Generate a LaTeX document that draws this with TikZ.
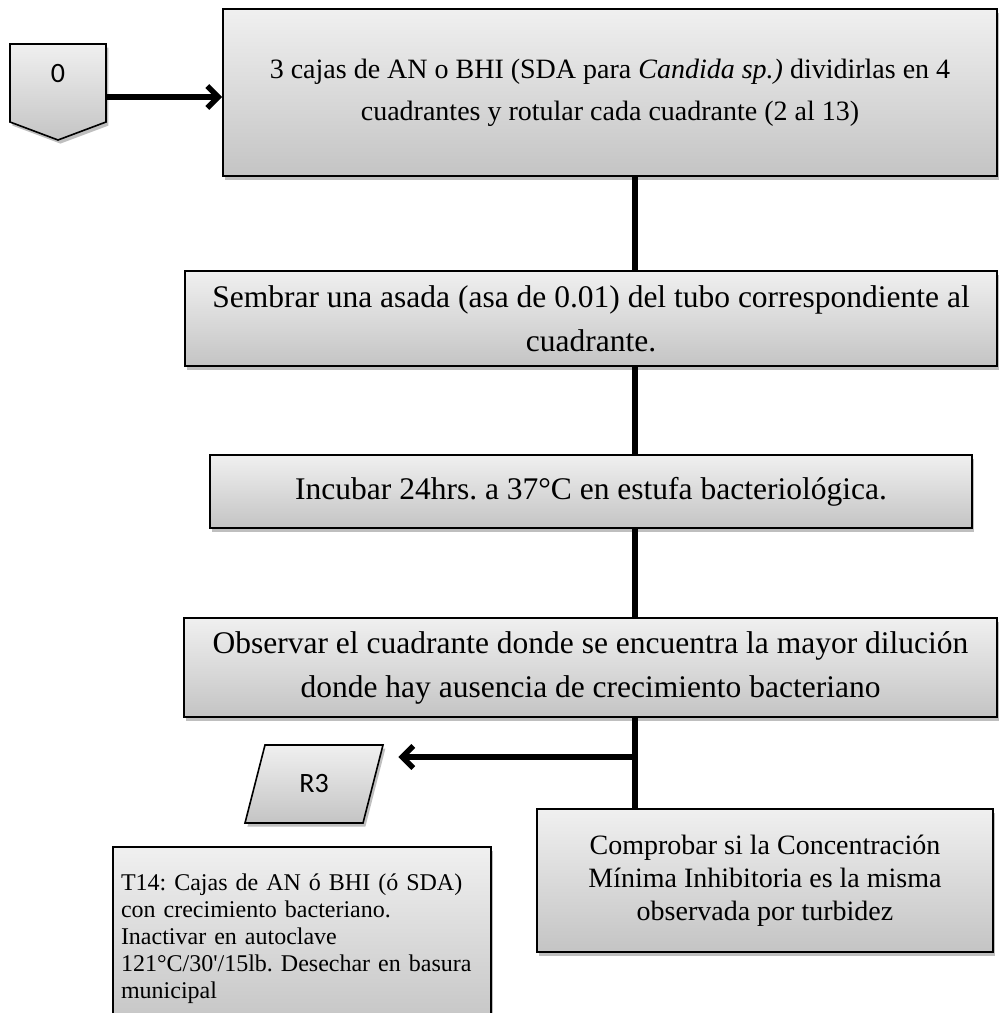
\documentclass[tikz,border=0pt]{standalone}
\usepackage{fontspec}
\setmainfont{Liberation Serif}
\newfontfamily\plainserif{Liberation Serif}[Ligatures=Common]
\newfontfamily\calfont{Carlito}
\usetikzlibrary{shadows,arrows.meta,calc}
\definecolor{boxtop}{RGB}{240,240,240}
\definecolor{boxbot}{RGB}{196,196,196}
\frenchspacing
\tikzset{
  shad/.style={drop shadow={shadow xshift=1.2pt,shadow yshift=-1.8pt,opacity=0.25,fill=black}},
  box/.style={draw=black, line width=0.8pt, top color=boxtop, bottom color=boxbot, shad, inner sep=0pt, align=center},
  bigtxt/.style={font=\fontsize{15.75pt}{22pt}\selectfont},
  midtxt/.style={font=\fontsize{14pt}{21pt}\selectfont},
  conn/.style={line width=2.75pt, draw=black},
  arr/.style={conn, -{Straight Barb[length=5.5pt,width=11pt]}},
}
\begin{document}
\begin{tikzpicture}[x=0.5pt,y=-0.5pt]
\useasboundingbox (0,0) rectangle (1000,1013);
\clip (0,0) rectangle (1000,1013);

% off-page connector 0
\path[draw=black, line width=0.8pt, top color=boxtop, bottom color=boxbot, shad]
  (10,44) -- (106,44) -- (106,122) -- (58,140) -- (10,122) -- cycle;
\node[inner sep=0pt, minimum width=48pt, minimum height=30pt, font=\calfont\fontsize{14pt}{16pt}\selectfont] (p0) at (58,74) {0};

% process boxes
\node[box, midtxt, minimum width=387pt, minimum height=83.5pt] (b1) at (610,92.5)
  {3 cajas de AN o BHI (SDA para \textit{Candida sp.)} dividirlas en 4\\cuadrantes y rotular cada cuadrante (2 al 13)};
\node[box, bigtxt, minimum width=406pt, minimum height=47.5pt] (b2) at (591,318.5)
  {Sembrar una asada (asa de 0.01) del tubo correspondiente al\\cuadrante.};
\node[box, bigtxt, minimum width=381pt, minimum height=36.5pt] (b3) at (591,491.5)
  {Incubar 24hrs. a 37°C en estufa bacteriológica.};
\node[box, bigtxt, minimum width=406.5pt, minimum height=49.5pt] (b4) at (590.5,667.5)
  {Observar el cuadrante donde se encuentra la mayor dilución\\donde hay ausencia de crecimiento bacteriano};
\node[box, font=\fontsize{14pt}{16.5pt}\selectfont, minimum width=228pt, minimum height=71.5pt] (b5) at (765,880.5)
  {Comprobar si la Concentración\\Mínima Inhibitoria es la misma\\observada por turbidez};

% R3 data shape
\path[draw=black, line width=0.8pt, top color=boxtop, bottom color=boxbot, shad]
  (265,745) -- (383,745) -- (363,823) -- (245,823) -- cycle;
\node[inner sep=0pt, minimum width=69pt, minimum height=39pt, font=\calfont\fontsize{14pt}{16pt}\selectfont] (r3) at (314,784) {R3};

% T14 note box
\node[box, align=left, font=\fontsize{12pt}{13.5pt}\selectfont, text width=181pt, inner xsep=4pt, minimum height=91.5pt] (t14) at (302,938.5)
  {\hyphenpenalty=10000 T14: Cajas de AN ó BHI (ó SDA)\\con crecimiento bacteriano.\\Inactivar en autoclave\\121°C/30{\plainserif '}/15lb. Desechar en basura\\municipal};

% connectors
\coordinate (sp) at (635,0);
\coordinate (j) at (635,757);
\draw[arr] ([yshift=-11.5pt]p0.east) -- ([yshift=-11.5pt]p0.east -| b1.west);
\draw[conn] (b1.south -| sp) -- (b2.north -| sp);
\draw[conn] (b2.south -| sp) -- (b3.north -| sp);
\draw[conn] (b3.south -| sp) -- (b4.north -| sp);
\draw[conn] (b4.south -| sp) -- (b5.north -| sp);
\draw[arr, shorten >=7.5pt] (j) -- (j -| r3.east);
\end{tikzpicture}
\end{document}
